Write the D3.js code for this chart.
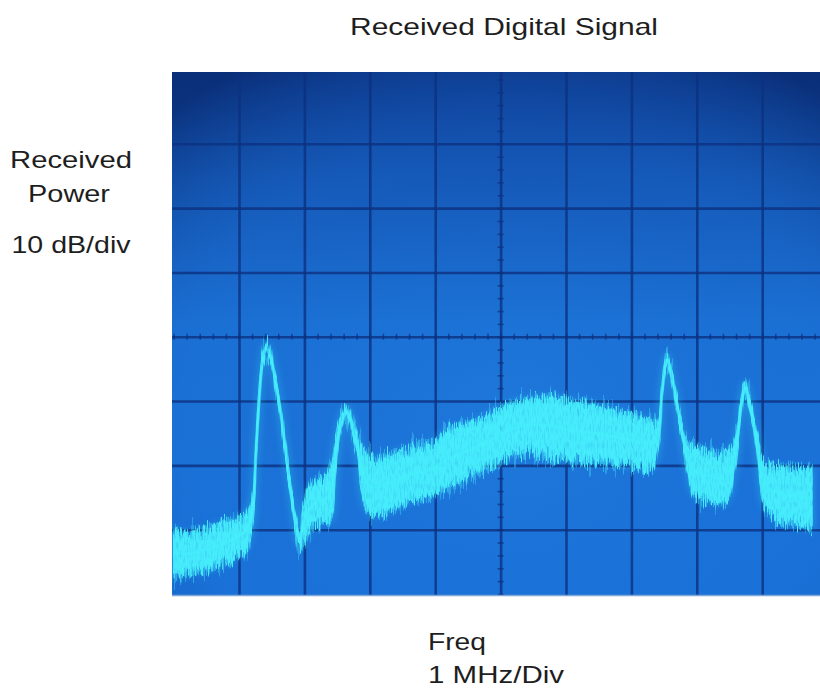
<!DOCTYPE html>
<html>
<head>
<meta charset="utf-8">
<script src="https://cdn.jsdelivr.net/npm/d3@7"></script>
<style>
  html, body { margin: 0; padding: 0; background: #ffffff; }
  svg { display: block; }
  text { font-family: "Liberation Sans", Arial, sans-serif; fill: #1e1e1e; }
</style>
</head>
<body>
<svg id="chart" width="820" height="688"></svg>
<script>
// ---- data ----
// frequency, in MHz from the left graticule edge (1 MHz/div)
const freq = [0.00, 0.25, 0.56, 0.86, 1.09, 1.20, 1.26, 1.32, 1.37, 1.41, 1.47, 1.58, 1.67, 1.77, 1.87, 1.93,
              1.99, 2.12, 2.27, 2.39, 2.48, 2.57, 2.65, 2.73, 2.82, 2.93, 3.08, 3.31, 3.61, 3.92, 4.23, 4.53,
              4.84, 5.14, 5.45, 5.76, 6.06, 6.37, 6.67, 6.98, 7.28, 7.39, 7.47, 7.54, 7.62, 7.74, 7.86, 7.97,
              8.20, 8.43, 8.58, 8.68, 8.74, 8.81, 8.92, 9.04, 9.27, 9.50, 9.76];
// upper edge of the noisy trace (dB, top of screen = 0 dB, 10 dB/div)
const upper = [-70.1, -70.8, -69.7, -68.8, -67.7, -65.4, -56.1, -47.5, -42.4, -41.3, -42.1, -47.5, -53.7, -61.5, -68.5, -70.8,
               -66.2, -63.1, -62.3, -60.7, -56.1, -52.2, -51.1, -53.0, -56.1, -58.4, -59.2, -58.4, -57.6, -56.8, -54.5, -53.7,
               -52.2, -50.6, -49.8, -49.5, -50.1, -50.6, -51.4, -52.2, -53.0, -53.7, -47.5, -43.0, -45.5, -52.2, -56.8, -57.3,
               -57.9, -58.4, -56.1, -49.8, -47.3, -49.8, -55.3, -59.9, -60.4, -60.7, -60.7];
// lower edge of the noisy trace (dB)
const lower = [-77.0, -76.6, -76.0, -74.7, -72.9, -69.3, -59.2, -48.6, -43.6, -42.4, -43.3, -48.8, -54.8, -63.1, -70.1, -72.4,
               -71.6, -69.3, -68.5, -68.5, -60.7, -53.7, -52.3, -54.5, -59.2, -66.2, -67.7, -66.9, -65.4, -64.6, -63.1, -61.5,
               -59.9, -58.4, -57.6, -58.4, -58.9, -59.2, -59.5, -59.9, -60.4, -58.4, -49.1, -44.2, -46.7, -53.7, -60.7, -64.6,
               -65.4, -65.7, -60.7, -51.4, -48.6, -51.4, -57.6, -66.2, -68.4, -69.0, -69.5];
// graticule ticks
const xTicks = [1, 2, 3, 4, 5, 6, 7, 8, 9];
const yTicks = [-10, -20, -30, -40, -50, -60, -70];
const titleText = "Received Digital Signal";
const yLabels = ["Received", "Power", "10 dB/div"];
const xLabels = ["Freq", "1 MHz/Div"];

// ---- layout ----
const svg = d3.select("#chart");
const plot = { left: 172, top: 72, right: 820, bottom: 595 };
const x = d3.scaleLinear().domain([0, 10]).range([173.6, 827.6]);
const y = d3.scaleLinear().domain([-80, 0]).range([594, 79.5]);

const defs = svg.append("defs");
defs.append("clipPath").attr("id", "clip")
  .append("rect").attr("x", plot.left).attr("y", plot.top)
  .attr("width", plot.right - plot.left).attr("height", plot.bottom - plot.top);

// screen background gradients
const lg = defs.append("linearGradient").attr("id", "bgLin").attr("x1", 0).attr("y1", 0).attr("x2", 0).attr("y2", 1);
lg.append("stop").attr("offset", "0%").attr("stop-color", "#0f4099");
lg.append("stop").attr("offset", "20%").attr("stop-color", "#1559b8");
lg.append("stop").attr("offset", "48%").attr("stop-color", "#1b70d4");
lg.append("stop").attr("offset", "100%").attr("stop-color", "#1a72d9");
const rg = defs.append("radialGradient").attr("id", "bgVig")
  .attr("cx", "52%").attr("cy", "68%").attr("r", "80%");
rg.append("stop").attr("offset", "0%").attr("stop-color", "#2a8ae8").attr("stop-opacity", 0.3);
rg.append("stop").attr("offset", "60%").attr("stop-color", "#1a6fd6").attr("stop-opacity", 0);
rg.append("stop").attr("offset", "100%").attr("stop-color", "#06205e").attr("stop-opacity", 0.55);

// noise filter: vertical-only jitter along the trace, optional speckle mask
function noiseFilter(id, freqX, seed, scale, oct, speckle) {
  const f = defs.append("filter").attr("id", id).attr("filterUnits", "userSpaceOnUse")
    .attr("x", plot.left).attr("y", plot.top).attr("width", plot.right - plot.left).attr("height", plot.bottom - plot.top);
  f.append("feTurbulence").attr("type", "fractalNoise")
    .attr("baseFrequency", freqX + " 0.01").attr("numOctaves", oct).attr("seed", seed).attr("result", "t");
  f.append("feColorMatrix").attr("in", "t").attr("type", "matrix")
    .attr("values", "0 0 0 0 0.5  0 1.6 0 0 -0.3  0 0 1 0 0  0 0 0 0 1").attr("result", "t2");
  f.append("feDisplacementMap").attr("in", "SourceGraphic").attr("in2", "t2")
    .attr("scale", scale).attr("xChannelSelector", "R").attr("yChannelSelector", "G").attr("result", "d");
  let last = "d";
  if (speckle) {
    f.append("feTurbulence").attr("type", "fractalNoise")
      .attr("baseFrequency", "0.7 0.12").attr("numOctaves", 2).attr("seed", seed + 20).attr("result", "s");
    f.append("feColorMatrix").attr("in", "s").attr("type", "matrix")
      .attr("values", "0 0 0 0 0  0 0 0 0 0  0 0 0 0 0  2.0 0 0 0 -0.05").attr("result", "m");
    f.append("feComposite").attr("in", "d").attr("in2", "m").attr("operator", "in").attr("result", "dm");
    last = "dm";
  }
  f.append("feGaussianBlur").attr("in", last).attr("stdDeviation", 0.6);
}
noiseFilter("noiseA", 0.9, 3, 20, 2, true);
noiseFilter("noiseB", 0.35, 11, 34, 3, false);
noiseFilter("noiseC", 1.6, 7, 28, 1, false);
const glow = defs.append("filter").attr("id", "glow").attr("filterUnits", "userSpaceOnUse")
  .attr("x", plot.left).attr("y", plot.top).attr("width", plot.right - plot.left).attr("height", plot.bottom - plot.top);
glow.append("feGaussianBlur").attr("stdDeviation", 3.5);

// ---- screen ----
const screen = svg.append("g").attr("clip-path", "url(#clip)");
screen.append("rect").attr("x", plot.left).attr("y", plot.top)
  .attr("width", plot.right - plot.left).attr("height", plot.bottom - plot.top).attr("fill", "url(#bgLin)");
screen.append("rect").attr("x", plot.left).attr("y", plot.top)
  .attr("width", plot.right - plot.left).attr("height", plot.bottom - plot.top).attr("fill", "url(#bgVig)");

// graticule via d3 axes
const gridColor = "#0c3180";
const gx = screen.append("g").attr("transform", `translate(0,${plot.bottom})`)
  .call(d3.axisBottom(x).tickValues(xTicks).tickSize(-(plot.bottom - plot.top)).tickFormat(""));
const gy = screen.append("g").attr("transform", `translate(${plot.left},0)`)
  .call(d3.axisLeft(y).tickValues(yTicks).tickSize(-(plot.right - plot.left)).tickFormat(""));
[gx, gy].forEach(g => {
  g.select(".domain").remove();
  g.selectAll(".tick line").attr("stroke", gridColor).attr("stroke-width", 2.6).attr("stroke-opacity", 0.8);
});

// minor ticks on the centre lines
const minorX = d3.range(0, 10.001, 0.2);
const minorY = d3.range(-80, 0.001, 2);
const cx = screen.append("g")
  .call(d3.axisBottom(x).tickValues(minorX).tickSize(6).tickFormat(""))
  .attr("transform", `translate(0,${y(-40) - 3})`);
const cy = screen.append("g")
  .call(d3.axisRight(y).tickValues(minorY).tickSize(6).tickFormat(""))
  .attr("transform", `translate(${x(5) - 3},0)`);
[cx, cy].forEach(g => {
  g.select(".domain").remove();
  g.selectAll(".tick line").attr("stroke", gridColor).attr("stroke-width", 1.6).attr("stroke-opacity", 0.7);
});

// ---- trace ----
const idx = d3.range(freq.length);
const area = d3.area()
  .x(i => x(freq[i])).y0(i => y(lower[i])).y1(i => y(upper[i]))
  .curve(d3.curveCatmullRom.alpha(0.5));
const mid = d3.line()
  .x(i => x(freq[i])).y(i => y((upper[i] + lower[i]) / 2))
  .curve(d3.curveCatmullRom.alpha(0.5));

const cyan = "#46eefc";
const trace = screen.append("g");
trace.append("path").datum(idx).attr("d", area)
  .attr("fill", "#2fd2f2").attr("opacity", 0.3).attr("stroke", "#2fd2f2").attr("stroke-width", 6)
  .attr("filter", "url(#glow)");
trace.append("path").datum(idx).attr("d", area)
  .attr("fill", cyan).attr("opacity", 0.35).attr("stroke", cyan).attr("stroke-width", 1)
  .attr("filter", "url(#noiseB)");
trace.append("path").datum(idx).attr("d", area)
  .attr("fill", cyan).attr("opacity", 0.45).attr("stroke", cyan).attr("stroke-width", 1)
  .attr("filter", "url(#noiseC)");
trace.append("path").datum(idx).attr("d", area)
  .attr("fill", cyan).attr("opacity", 0.95).attr("stroke", cyan).attr("stroke-width", 1.5)
  .attr("filter", "url(#noiseA)");
trace.append("path").datum(idx).attr("d", mid)
  .attr("fill", "none").attr("stroke", cyan).attr("stroke-width", 3.2).attr("opacity", 0.6);

// frame edge
svg.append("line").attr("x1", plot.left).attr("x2", plot.right).attr("y1", plot.bottom + 0.5).attr("y2", plot.bottom + 0.5)
  .attr("stroke", "#7fa6d6").attr("stroke-width", 1.5);

// ---- text ----
svg.append("text").attr("x", 504).attr("y", 35).attr("text-anchor", "middle")
  .attr("font-size", 24).attr("textLength", 308).attr("lengthAdjust", "spacingAndGlyphs").text(titleText);
const yl = [{ cx: 71, by: 168, w: 122 }, { cx: 69, by: 202, w: 82 }, { cx: 71, by: 253, w: 119 }];
yLabels.forEach((t, i) => {
  svg.append("text").attr("x", yl[i].cx).attr("y", yl[i].by).attr("text-anchor", "middle")
    .attr("font-size", 24).attr("textLength", yl[i].w).attr("lengthAdjust", "spacingAndGlyphs").text(t);
});
const xl = [{ by: 650, w: 58 }, { by: 683, w: 136 }];
xLabels.forEach((t, i) => {
  svg.append("text").attr("x", 428).attr("y", xl[i].by).attr("text-anchor", "start")
    .attr("font-size", 24).attr("textLength", xl[i].w).attr("lengthAdjust", "spacingAndGlyphs").text(t);
});
</script>
</body>
</html>
